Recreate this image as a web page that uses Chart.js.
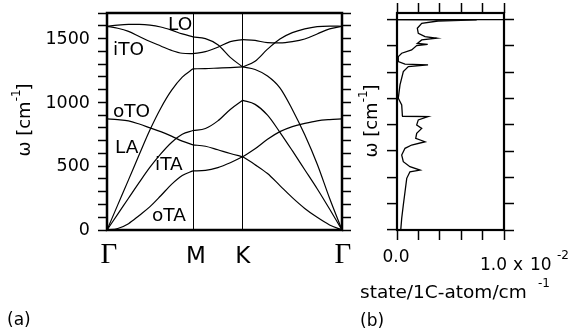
<!DOCTYPE html>
<html>
<head>
<meta charset="utf-8">
<script src="https://cdn.jsdelivr.net/npm/chart.js@4.4.0/dist/chart.umd.min.js"></script>
<style>
    html, body { margin: 0; padding: 0; background: #fff; }
    #wrap { position: relative; width: 569px; height: 335px; }
    #wrap canvas { position: absolute; left: 0; top: 0; }
</style>
</head>
<body>
<div id="wrap">
    <canvas id="dispChart" width="569" height="335"></canvas>
    <canvas id="dosChart" width="569" height="335"></canvas>
</div>
<script>
// path Γ-M-K-Γ, distance along k
const kGM = [0, 0.0722, 0.1443, 0.2165, 0.2887, 0.3608, 0.4330, 0.5052, 0.5774];
const kMK = [0.5774, 0.6607, 0.7440, 0.8274, 0.9107];
const kKG = [0.9107, 0.9940, 1.0774, 1.1607, 1.2440, 1.3274, 1.4107, 1.4940, 1.5774];
const kTicks = [0, 0.5774, 0.9107, 1.5774];
const kLabels = ['Γ', 'M', 'K', 'Γ'];
const omegaLabels = [0, 500, 1000, 1500];

// phonon branches [cm-1]: Γ-M | M-K | K-Γ
const oTA = [0, 12, 50, 115, 184, 270, 360, 430, 466,   466, 470, 492, 530, 577,   577, 515, 445, 350, 255, 170, 100, 40, 0];
const iTA = [0, 125, 250, 375, 495, 600, 690, 755, 784,   784, 800, 860, 950, 1022,   1022, 990, 905, 770, 625, 475, 325, 165, 0];
const LA  = [0, 198, 395, 595, 790, 960, 1100, 1205, 1270,   1270, 1272, 1276, 1280, 1285,   1285, 1265, 1213, 1120, 950, 750, 520, 250, 0];
const oTO = [876, 870, 860, 835, 805, 775, 740, 700, 671,   671, 660, 632, 603, 577,   577, 640, 715, 775, 815, 840, 860, 870, 876];
const iTO = [1605, 1590, 1565, 1525, 1485, 1450, 1415, 1393, 1390,   1390, 1405, 1440, 1485, 1500,   1500, 1494, 1476, 1474, 1484, 1505, 1545, 1585, 1605];
const LO  = [1605, 1615, 1620, 1620, 1615, 1600, 1575, 1545, 1522,   1522, 1508, 1460, 1360, 1285,   1285, 1330, 1425, 1505, 1555, 1585, 1603, 1607, 1605];

// density of states (x in units of 1e-2 state/1C-atom/cm-1)
const dosOmega = [0, 89, 190, 291, 393, 443, 456, 481, 519, 570, 621, 646, 671, 697, 735, 773, 799, 837, 862, 865, 875, 951, 1002, 1103, 1204, 1242, 1255, 1262, 1280, 1318, 1344, 1369, 1402, 1412, 1418, 1445, 1458, 1470, 1496, 1534, 1572, 1589, 1597, 1600];
const dosValue = [0.035, 0.044, 0.059, 0.075, 0.091, 0.121, 0.215, 0.121, 0.059, 0.044, 0.075, 0.137, 0.262, 0.175, 0.184, 0.231, 0.184, 0.199, 0.29, 0.047, 0.05, 0.044, 0.012, 0.028, 0.059, 0.106, 0.29, 0.075, 0.012, 0.012, 0.044, 0.137, 0.184, 0.287, 0.19, 0.231, 0.371, 0.262, 0.199, 0.19, 0.231, 0.383, 0.745, 0];

const FONT = '"DejaVu Sans", sans-serif';

function text(ctx, s, x, y, size, align, family, baseline) {
    ctx.font = size + 'px ' + (family || FONT);
    ctx.textAlign = align || 'left';
    ctx.textBaseline = baseline || 'alphabetic';
    ctx.fillText(s, x, y);
}

// rotated "ω [cm-1]" with superscript
function omegaTitle(ctx, x, cy) {
    ctx.save();
    ctx.translate(x, cy);
    ctx.rotate(-Math.PI / 2);
    ctx.fillStyle = '#000';
    ctx.font = '18px ' + FONT;
    const wa = ctx.measureText('ω [cm').width;
    ctx.font = '12px ' + FONT;
    const wb = ctx.measureText('-1').width;
    const x0 = -(wa + wb + 6) / 2;
    text(ctx, 'ω [cm', x0, 0, 18);
    text(ctx, '-1', x0 + wa, -10, 12);
    text(ctx, ']', x0 + wa + wb - 1, 0, 18);
    ctx.restore();
}

// split a branch into Γ-M, M-K, K-Γ pieces
function segments(vals) {
    let i = 0;
    return [kGM, kMK, kKG].map(ks => ks.map(k => ({ x: k, y: vals[i++] })));
}

const branches = [oTA, iTA, LA, oTO, iTO, LO];
const dispSets = [];
branches.forEach(b => {
    segments(b).forEach(seg => {
        dispSets.push({
            data: seg,
            showLine: true,
            borderColor: '#000',
            borderWidth: 1.2,
            pointRadius: 0,
            cubicInterpolationMode: 'monotone',
            fill: false
        });
    });
});

const tickGrid = { drawOnChartArea: false, tickLength: 9, tickColor: '#000', tickWidth: 1.5 };

// Панель (a): дисперсия
const dispDecor = {
    id: 'dispDecor',
    afterDraw(chart) {
        const { ctx, chartArea: a, scales: { x, y } } = chart;
        ctx.save();
        ctx.strokeStyle = '#000';
        ctx.lineWidth = 2.5;
        ctx.strokeRect(a.left, a.top, a.right - a.left, a.bottom - a.top);
        ctx.fillStyle = '#000';

        // omega tick labels
        omegaLabels.forEach(v => {
            text(ctx, String(v), a.left - 17, y.getPixelForValue(v), 17.5, 'right', null, 'middle');
        });

        // branch names
        text(ctx, 'LO', 168, 30, 18.5);
        text(ctx, 'iTO', 113, 55, 18.5);
        text(ctx, 'oTO', 113, 117, 18.5);
        text(ctx, 'LA', 115, 153, 18.5);
        text(ctx, 'iTA', 155, 170, 18.5);
        text(ctx, 'oTA', 152, 221, 18.5);

        // symmetry points
        const dx = [2, 3, 0, 1];
        kTicks.forEach((k, i) => {
            const px = x.getPixelForValue(k) + dx[i];
            if (kLabels[i] === 'Γ') {
                text(ctx, 'Γ', px, 263, 29, 'center', '"Liberation Serif", serif');
            } else {
                text(ctx, kLabels[i], px, 263, 23, 'center');
            }
        });

        omegaTitle(ctx, 30, 120);
        text(ctx, '(a)', 7, 325, 17);
        ctx.restore();
    }
};

new Chart(document.getElementById('dispChart'), {
    type: 'scatter',
    data: { datasets: dispSets },
    options: {
        responsive: false,
        animation: false,
        layout: { padding: { top: 13, left: 0, right: 0, bottom: 0 } },
        plugins: { legend: { display: false }, tooltip: { enabled: false } },
        scales: {
            x: {
                type: 'linear', min: 0, max: kTicks[3],
                afterBuildTicks: s => { s.ticks = kTicks.map(v => ({ value: v })); },
                afterFit: s => { s.height = 105; },
                ticks: { display: false },
                grid: { color: '#000', lineWidth: 1, drawTicks: false },
                border: { display: false }
            },
            y: {
                type: 'linear', min: 0, max: 1710,
                afterFit: s => { s.width = 107; },
                ticks: { stepSize: 100, includeBounds: false, autoSkip: false, display: false },
                grid: tickGrid,
                border: { display: false }
            },
            y2: {
                type: 'linear', position: 'right', min: 0, max: 1710,
                afterFit: s => { s.width = 227; },
                ticks: { stepSize: 100, includeBounds: false, autoSkip: false, display: false },
                grid: tickGrid,
                border: { display: false }
            }
        }
    },
    plugins: [dispDecor]
});

// Панель (b): плотность состояний
const dosDecor = {
    id: 'dosDecor',
    afterDraw(chart) {
        const { ctx, chartArea: a } = chart;
        ctx.save();
        ctx.strokeStyle = '#000';
        ctx.lineWidth = 2.2;
        ctx.strokeRect(a.left, a.top, a.right - a.left, a.bottom - a.top);
        ctx.fillStyle = '#000';

        text(ctx, '0.0', a.left - 1, 262, 17, 'center');
        text(ctx, '1.0', 480, 270, 17);
        text(ctx, 'x', 513, 270, 17);
        text(ctx, '10', 530, 270, 17);
        text(ctx, '-2', 557, 259, 12);

        text(ctx, 'state/1C-atom/cm', 360, 298, 18.5);
        text(ctx, '-1', 538, 287, 12);
        text(ctx, '(b)', 360, 326, 17);

        omegaTitle(ctx, 377, 121);
        ctx.restore();
    }
};

const dosTickGrid = { drawOnChartArea: false, tickLength: 10, tickColor: '#000', tickWidth: 1.5 };

new Chart(document.getElementById('dosChart'), {
    type: 'scatter',
    data: {
        datasets: [{
            data: dosOmega.map((w, i) => ({ x: dosValue[i], y: w })),
            showLine: true,
            tension: 0,
            borderColor: '#000',
            borderWidth: 1.3,
            pointRadius: 0
        }]
    },
    options: {
        responsive: false,
        animation: false,
        layout: { padding: 0 },
        plugins: { legend: { display: false }, tooltip: { enabled: false } },
        scales: {
            x: {
                type: 'linear', position: 'bottom', min: 0, max: 1,
                afterFit: s => { s.height = 105; },
                ticks: { stepSize: 0.2, display: false },
                grid: dosTickGrid,
                border: { display: false }
            },
            x2: {
                type: 'linear', position: 'top', min: 0, max: 1,
                afterFit: s => { s.height = 13; },
                ticks: { stepSize: 0.2, display: false },
                grid: dosTickGrid,
                border: { display: false }
            },
            y: {
                type: 'linear', min: 0, max: 1650,
                afterFit: s => { s.width = 397; },
                ticks: { stepSize: 200, includeBounds: false, autoSkip: false, display: false },
                grid: {
                    tickLength: 10, tickColor: '#000', tickWidth: 1.5, lineWidth: 1.2,
                    color: c => (c.tick && c.tick.value === 1600 ? '#000' : 'rgba(0,0,0,0)')
                },
                border: { display: false }
            },
            y2: {
                type: 'linear', position: 'right', min: 0, max: 1650,
                afterFit: s => { s.width = 65; },
                ticks: { stepSize: 200, includeBounds: false, autoSkip: false, display: false },
                grid: dosTickGrid,
                border: { display: false }
            }
        }
    },
    plugins: [dosDecor]
});
</script>
</body>
</html>
